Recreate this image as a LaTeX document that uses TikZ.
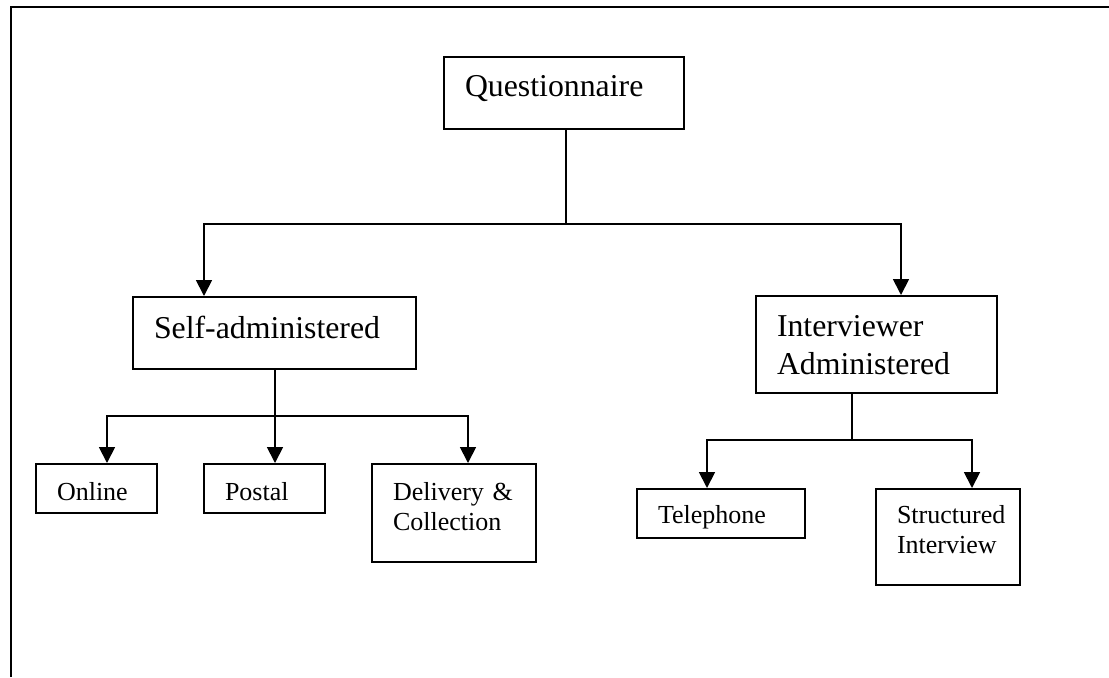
\documentclass[tikz,border=0pt]{standalone}
\usepackage{fontspec}
\setmainfont{Liberation Serif}
\usetikzlibrary{positioning,
calc,
arrows.meta}
\tikzstyle{Arrow} = [
line width=0.9pt,
-{Triangle[length=8pt,width=8pt]}
]
\tikzstyle{Line} = [line width=0.9pt]
\tikzstyle{Box} = [
draw, line width=1pt, anchor=north west, inner sep=0pt, align=left,
execute at begin node={\leftskip=10.5pt}
]
\tikzstyle{big} = [font=\fontsize{15.9pt}{19pt}\selectfont]
\tikzstyle{small} = [font=\fontsize{13pt}{15.25pt}\selectfont]

\begin{document}
\begin{tikzpicture}[x=0.5pt,y=-0.5pt]
   \useasboundingbox (0,0) rectangle (1109,677);
   \draw [line width=1.2pt] (11,677) -- (11,7) -- (1109,7);

   \node [Box, big, text width=120pt, text height=19.5pt, text depth=16.5pt] (quest) at (443,56) {Questionnaire};
   \node [Box, big, text width=141.5pt, text height=20.5pt, text depth=15.5pt] (self) at (132,296) {Self-administered};
   \node [Box, big, text width=120.5pt, text height=20pt, text depth=28.5pt] (inter) at (755,295) {Interviewer\\Administered};
   \node [Box, small, text width=60.5pt, text height=18pt, text depth=6.5pt] (online) at (35,463) {Online};
   \node [Box, small, text width=60.5pt, text height=18pt, text depth=6.5pt] (postal) at (203,463) {Postal};
   \node [Box, small, text width=82pt, text height=18pt, text depth=31pt] (deliv) at (371,463) {Delivery \&\\Collection};
   \node [Box, small, text width=84pt, text height=17pt, text depth=7.5pt] (tele) at (636,488) {Telephone};
   \node [Box, small, text width=72pt, text height=17pt, text depth=31pt] (struct) at (875,488) {Structured\\Interview};

   \coordinate (qj) at (566,224);
   \coordinate (selfj) at (275,416);
   \coordinate (interj) at (852,440);

   \draw [Line] (quest.south -| qj) -- (qj);
   \draw [Arrow] (qj) -| ([xshift=36pt]self.north west);
   \draw [Arrow] (qj) -| ([xshift=73pt]inter.north west);

   \draw [Line] (self.south -| selfj) -- (selfj);
   \draw [Arrow] (selfj) -| ([xshift=36pt]online.north west);
   \draw [Arrow] (selfj) -- (selfj |- postal.north);
   \draw [Arrow] (selfj) -| ([xshift=48.5pt]deliv.north west);

   \draw [Line] (inter.south -| interj) -- (interj);
   \draw [Arrow] (interj) -| ([xshift=35.5pt]tele.north west);
   \draw [Arrow] (interj) -| ([xshift=48.5pt]struct.north west);
\end{tikzpicture}
\end{document}
